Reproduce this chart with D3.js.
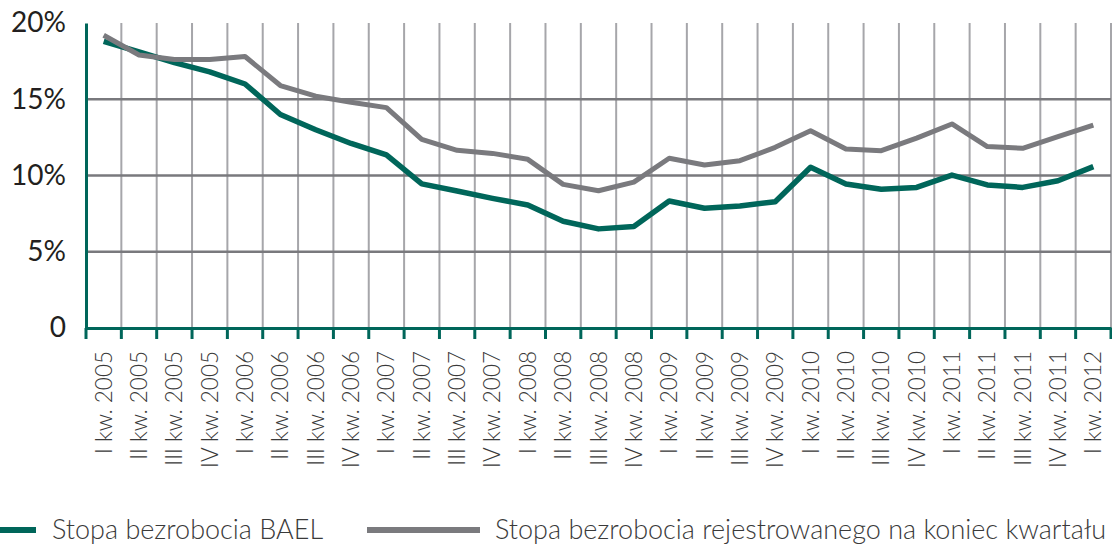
<!DOCTYPE html>
<html><head><meta charset="utf-8">
<script src="https://cdn.jsdelivr.net/npm/d3@7"></script>
<style>
html,body{margin:0;padding:0;background:#fff;overflow:hidden;}
svg{display:block;}
</style></head>
<body>
<svg id="c" width="1112" height="544"></svg>
<script>
const quarters = ["I kw. 2005","II kw. 2005","III kw. 2005","IV kw. 2005",
"I kw. 2006","II kw. 2006","III kw. 2006","IV kw. 2006",
"I kw. 2007","II kw. 2007","III kw. 2007","IV kw. 2007",
"I kw. 2008","II kw. 2008","III kw. 2008","IV kw. 2008",
"I kw. 2009","II kw. 2009","III kw. 2009","IV kw. 2009",
"I kw. 2010","II kw. 2010","III kw. 2010","IV kw. 2010",
"I kw. 2011","II kw. 2011","III kw. 2011","IV kw. 2011",
"I kw. 2012"];
const baelRate = [18.8,18.1,17.4,16.8,16.0,14.0,13.0,12.1,11.35,9.45,8.98,8.5,8.07,7.0,6.5,6.65,8.33,7.85,8.0,8.28,10.54,9.44,9.1,9.22,10.03,9.38,9.22,9.66,10.58];
const registeredRate = [19.2,17.9,17.6,17.6,17.8,15.9,15.2,14.8,14.45,12.37,11.65,11.45,11.06,9.42,9.0,9.57,11.13,10.69,10.97,11.85,12.94,11.74,11.63,12.45,13.38,11.9,11.78,12.55,13.3];
const yTicks = [0,5,10,15,20];
const gridTicks = [5,10,15];
const seriesNames = ["Stopa bezrobocia BAEL","Stopa bezrobocia rejestrowanego na koniec kwartału"];

const teal = "#00665a", grey = "#7a7a7e";
const svg = d3.select("#c");
const L = 86, R = 1111, T = 23, B = 328;
const x = d3.scaleBand().domain(quarters).range([L, R]).paddingInner(0).paddingOuter(0);
const y = d3.scaleLinear().domain([0,20]).range([B, T]);

// vertical grid lines at category boundaries
const bounds = quarters.map(q => x(q) + x.bandwidth());
svg.append("g").selectAll("line").data(bounds).join("line")
  .attr("x1", d => d).attr("x2", d => d).attr("y1", T).attr("y2", B)
  .attr("stroke", "#a6a6aa").attr("stroke-width", 2);

// horizontal grid lines
svg.append("g").selectAll("line").data(gridTicks).join("line")
  .attr("x1", L).attr("x2", R).attr("y1", d => y(d)).attr("y2", d => y(d))
  .attr("stroke", "#79797d").attr("stroke-width", 2.5);

// y axis
const yAxis = d3.axisLeft(y).tickValues(yTicks).tickSize(0).tickPadding(20)
  .tickFormat(d => d === 0 ? "0" : d + "%");
const gy = svg.append("g").attr("transform", `translate(${L},0)`).call(yAxis);
gy.select(".domain").attr("stroke", teal).attr("stroke-width", 3);
gy.selectAll("text").attr("font-family", "Lato, 'Open Sans', sans-serif")
  .attr("font-size", 28).attr("fill", "#231f20").attr("font-weight", 400);

// x axis
const xAxis = d3.axisBottom(x).tickSize(0).tickFormat(() => "");
const gx = svg.append("g").attr("transform", `translate(0,${B})`).call(xAxis);
gx.select(".domain").attr("stroke", teal).attr("stroke-width", 3);
gx.selectAll(".tick").remove();
// tick marks at boundaries
svg.append("g").selectAll("line").data([L].concat(bounds)).join("line")
  .attr("x1", d => d).attr("x2", d => d).attr("y1", B).attr("y2", B + 11)
  .attr("stroke", teal).attr("stroke-width", 3);

// x labels rotated
svg.append("g").selectAll("text").data(quarters).join("text")
  .attr("transform", d => `translate(${x(d) + x.bandwidth()/2 + 8},351) rotate(-90)`)
  .attr("text-anchor", "end")
  .attr("font-family", "Lato, 'Open Sans', sans-serif")
  .attr("font-weight", 300)
  .attr("font-size", 22.5).attr("fill", "#3a3a3a")
  .text(d => d);

// lines
const line = d3.line().x((d,i) => x(quarters[i]) + x.bandwidth()/2).y(d => y(d));
svg.append("path").datum(baelRate).attr("d", line)
  .attr("fill", "none").attr("stroke", teal).attr("stroke-width", 5.5).attr("stroke-linejoin", "round");
svg.append("path").datum(registeredRate).attr("d", line)
  .attr("fill", "none").attr("stroke", grey).attr("stroke-width", 5).attr("stroke-linejoin", "round");

// legend
const lg = svg.append("g");
lg.append("line").attr("x1", 0).attr("x2", 36).attr("y1", 530).attr("y2", 530)
  .attr("stroke", teal).attr("stroke-width", 6);
lg.append("text").attr("x", 52).attr("y", 539).text(seriesNames[0])
  .attr("font-family", "Lato, 'Open Sans', sans-serif").attr("font-weight", 300)
  .attr("font-size", 27).attr("fill", "#3a3a3a");
lg.append("line").attr("x1", 367).attr("x2", 480).attr("y1", 530).attr("y2", 530)
  .attr("stroke", grey).attr("stroke-width", 6);
lg.append("text").attr("x", 495).attr("y", 539).text(seriesNames[1])
  .attr("font-family", "Lato, 'Open Sans', sans-serif").attr("font-weight", 300)
  .attr("font-size", 27).attr("fill", "#3a3a3a");
</script>
</body></html>
